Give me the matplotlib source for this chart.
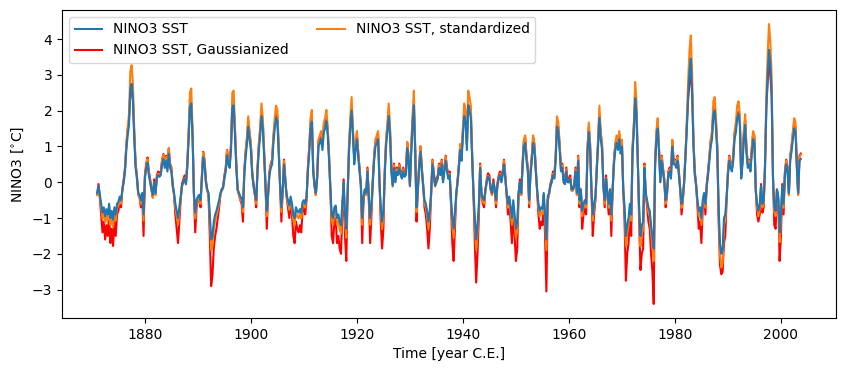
import numpy as np
import matplotlib
matplotlib.use("Agg")
import matplotlib.pyplot as plt

# quarterly samples starting 1871.0
start_year = 1871.0
step = 0.25

sst = [
    -0.3, -0.1, -0.35, -0.6,   -0.85, -0.7, -0.95, -0.75,  -0.9, -0.6, -1.0, -0.8,
    -1.05, -0.7, -0.9, -0.6,   -0.55, -0.4, -0.5, -0.2,    0.0, 0.3, 0.9, 1.3,
    1.6, 2.6, 2.75, 2.3,       1.2, 0.4, 0.1, -0.3,        -0.35, -0.5, -0.3, -0.9,
    0.1, 0.4, 0.55, 0.2,       0.0, -0.2, -0.35, 0.0,      -0.3, 0.1, 0.2, 0.15,
    0.2, 0.5, 0.65, 0.4,       0.6, 0.3, 0.8, 0.4,         0.3, -0.1, -0.3, -0.6,
    -0.8, -1.0, -0.7, -0.4,    -0.1, 0.0, 0.1, -0.05,      0.4, 1.2, 2.1, 2.2,
    1.2, -0.3, -0.85, -0.5,    -0.4, -0.35, -0.5, 0.1,     0.7, 0.5, 0.0, -0.2,
    -0.3, -0.9, -1.6, -1.5,    -1.1, -0.9, -0.8, -0.65,    -0.5, -0.3, -0.2, -0.15,
    0.1, 0.3, 0.75, 0.5,       0.4, 0.9, 2.1, 2.15,        1.3, 0.4, -0.2, -0.3,
    -0.4, -0.45, -0.7, 0.2,    0.7, 1.05, 1.55, 1.2,       0.9, 0.2, -0.1, -0.3,
    -0.5, 0.3, 0.9, 1.3,       1.85, 1.5, 0.7, -0.1,       -0.8, -0.3, 0.2, 0.4,
    0.5, 1.1, 1.5, 1.8,        1.7, 0.8, -0.1, -0.7,       -0.2, 0.5, 0.0, -0.35,
    -0.5, -0.65, -0.4, -0.6,   -0.9, -1.0, -0.7, -0.8,     -0.85, -0.75, -0.85, -0.55,
    -0.5, -0.6, -0.4, 0.3,     0.8, 1.5, 1.7, 0.3,         -0.1, -0.3, 0.1, 1.0,
    1.1, 1.2, 0.9, 1.4,        1.5, 1.7, 1.3, 0.6,         -0.2, -0.9, -1.0, -0.7,
    -0.65, -1.0, -0.9, -1.1,   -1.2, -0.6, 0.0, -0.9,      -1.3, -0.3, 0.8, 1.5,
    2.0, 1.3, 0.5, 0.9,        1.2, 0.7, 0.3, -0.1,        -1.0, -0.4, -0.2, -0.3,
    0.3, -0.4, -1.0, -0.6,     0.0, 0.6, 1.0, 1.1,         1.2, 0.0, -0.7, -1.1,
    -0.8, 0.2, 1.0, 1.4,       1.85, 1.3, 0.3, -0.1,       0.4, 0.0, 0.3, 0.2,
    0.4, 0.2, 0.1, 0.3,        0.15, 0.2, 0.95, 0.6,       -0.1, 0.8, 1.6, 2.15,
    0.8, -0.7, -0.2, 0.4,      0.85, 0.3, -0.1, -0.5,      -0.6, -0.8, -1.1, -0.8,
    -0.3, 0.5, 0.2, -0.1,      0.0, 0.1, 0.4, 0.2,         0.5, 0.0, 0.3, 0.6,
    0.3, 0.1, 0.2, -0.45,      -1.0, -1.3, -0.8, -0.3,     0.0, 0.4, 0.9, 0.6,
    1.3, 1.85, 1.7, 0.9,       2.15, 2.0, 1.8, 0.6,        -0.3, -1.0, -1.6, -1.2,
    -0.65, 0.4, -0.3, -0.45,   -0.5, -0.2, 0.0, 0.15,      0.1, -0.2, -0.3, 0.0,
    -0.2, -0.5, -0.1, 0.1,     0.2, 0.0, 0.2, 0.5,         0.1, -0.3, -0.6, -0.4,
    -0.7, -1.0, -0.5, -0.9,    -1.3, -1.1, -0.3, 0.0,      -0.3, 0.4, 1.0, 1.1,
    0.6, 0.3, -0.5, 0.2,       0.6, 1.1, 0.9, 0.3,         -0.2, -0.6, -0.8, -0.7,
    -0.75, -0.3, -0.9, -1.6,   -0.4, -0.3, -0.1, 0.0,      0.2, 0.1, 0.6, 1.55,
    1.4, 0.9, 0.3, 0.4,        0.0, -0.05, 0.3, 0.0,       0.0, 0.1, -0.2, -0.2,
    -0.1, 0.3, -0.3, 0.6,      -0.5, -0.2, -0.8, -0.6,     -0.5, -0.6, 0.8, 1.4,
    0.9, -0.2, -0.9, -0.6,     -0.4, 0.3, 1.0, 1.8,        1.2, 0.9, -0.1, -0.5,
    0.1, -0.3, -0.6, -0.2,     -0.9, -0.2, 0.5, 0.9,       1.1, 0.9, 1.2, 0.8,
    1.0, -0.2, -0.7, -1.5,     -1.2, -1.0, -0.6, -0.9,     0.8, 1.4, 2.35, 1.9,
    0.5, -0.7, -1.5, -1.2,     -1.1, 0.4, -0.3, -0.5,      -0.7, -0.8, -1.2, -1.5,
    -1.85, 0.4, 1.2, 1.5,      0.8, 0.0, 0.6, 0.3,         0.0, -0.5, -0.3, 0.2,
    0.3, 0.1, 1.0, 0.5,        0.5, 0.4, 0.6, 0.2,         -0.2, -0.6, -0.4, 0.0,
    0.7, 1.5, 2.4, 3.1,        3.45, 2.5, 1.0, 0.2,        -0.1, -0.5, -0.8, -0.7,
    -1.0, -0.5, -0.3, -0.6,    -0.1, 0.2, 0.6, 1.0,        1.2, 1.9, 2.0, 1.5,
    0.8, -0.7, -1.7, -2.0,     -1.9, -1.0, -0.9, -0.4,     0.2, 0.6, 0.4, 0.3,
    0.6, 1.2, 1.4, 1.8,        1.9, 1.6, 0.1, 0.5,         1.2, 1.6, 0.8, 0.4,
    0.5, 0.3, 0.8, 1.2,        1.1, -0.2, -0.6, -0.8,      -0.6, -0.1, -0.6, -0.5,
    0.4, 2.1, 3.0, 3.7,        3.3, 2.5, 0.1, -0.7,        -0.8, -0.2, -0.4, -1.4,
    -0.9, -0.1, -0.6, 0.2,     0.5, 0.3, -0.3, 0.6,        0.85, 1.2, 1.5, 1.4,
    0.4, -0.3, 0.6, 0.65,
]

sst_std = [
    -0.36, -0.12, -0.42, -0.71,  -1.01, -0.83, -1.13, -0.89,  -1.07, -0.71, -1.19, -0.95,
    -1.25, -0.83, -1.07, -0.71,  -0.65, -0.48, -0.6, -0.24,   0.0, 0.36, 1.07, 1.55,
    1.9, 3.09, 3.27, 2.74,       1.43, 0.48, 0.12, -0.36,     -0.42, -0.6, -0.36, -1.07,
    0.12, 0.48, 0.65, 0.24,      0.0, -0.24, -0.42, 0.0,      -0.36, 0.12, 0.24, 0.18,
    0.24, 0.6, 0.77, 0.48,       0.71, 0.36, 0.95, 0.48,      0.36, -0.12, -0.36, -0.71,
    -0.95, -1.19, -0.83, -0.48,  -0.12, 0.0, 0.12, -0.06,     0.48, 1.43, 2.5, 2.62,
    1.43, -0.36, -1.01, -0.6,    -0.48, -0.42, -0.6, 0.12,    0.83, 0.6, 0.0, -0.24,
    -0.36, -1.07, -1.9, -1.79,   -1.31, -1.07, -0.95, -0.77,  -0.6, -0.36, -0.24, -0.18,
    0.12, 0.36, 0.89, 0.6,       0.48, 1.07, 2.5, 2.56,       1.55, 0.48, -0.24, -0.36,
    -0.48, -0.54, -0.83, 0.24,   0.83, 1.25, 1.84, 1.43,      1.07, 0.24, -0.12, -0.36,
    -0.6, 0.36, 1.07, 1.55,      2.2, 1.79, 0.83, -0.12,      -0.95, -0.36, 0.24, 0.48,
    0.6, 1.31, 1.79, 2.14,       2.02, 0.95, -0.12, -0.83,    -0.24, 0.6, 0.0, -0.42,
    -0.6, -0.77, -0.48, -0.71,   -1.07, -1.19, -0.83, -0.95,  -1.01, -0.89, -1.01, -0.65,
    -0.6, -0.71, -0.48, 0.36,    0.95, 1.79, 2.02, 0.36,      -0.12, -0.36, 0.12, 1.19,
    1.31, 1.43, 1.07, 1.67,      1.79, 2.02, 1.55, 0.71,      -0.24, -1.07, -1.19, -0.83,
    -0.77, -1.19, -1.07, -1.31,  -1.43, -0.71, 0.0, -1.07,    -1.55, -0.36, 0.95, 1.79,
    2.38, 1.55, 0.6, 1.07,       1.43, 0.83, 0.36, -0.12,     -1.19, -0.48, -0.24, -0.36,
    0.36, -0.48, -1.19, -0.71,   0.0, 0.71, 1.19, 1.31,       1.43, 0.0, -0.83, -1.31,
    -0.95, 0.24, 1.19, 1.67,     2.2, 1.55, 0.36, -0.12,      0.48, 0.0, 0.36, 0.24,
    0.48, 0.24, 0.12, 0.36,      0.18, 0.24, 1.13, 0.71,      -0.12, 0.95, 1.9, 2.56,
    0.95, -0.83, -0.24, 0.48,    1.01, 0.36, -0.12, -0.6,     -0.71, -0.95, -1.31, -0.95,
    -0.36, 0.6, 0.24, -0.12,     0.0, 0.12, 0.48, 0.24,       0.6, 0.0, 0.36, 0.71,
    0.36, 0.12, 0.24, -0.54,     -1.19, -1.55, -0.95, -0.36,  0.0, 0.48, 1.07, 0.71,
    1.55, 2.2, 2.02, 1.07,       2.56, 2.38, 2.14, 0.71,      -0.36, -1.19, -1.9, -1.43,
    -0.77, 0.48, -0.36, -0.54,   -0.6, -0.24, 0.0, 0.18,      0.12, -0.24, -0.36, 0.0,
    -0.24, -0.6, -0.12, 0.12,    0.24, 0.0, 0.24, 0.6,        0.12, -0.36, -0.71, -0.48,
    -0.83, -1.19, -0.6, -1.07,   -1.55, -1.31, -0.36, 0.0,    -0.36, 0.48, 1.19, 1.31,
    0.71, 0.36, -0.6, 0.24,      0.71, 1.31, 1.07, 0.36,      -0.24, -0.71, -0.95, -0.83,
    -0.89, -0.36, -1.07, -1.9,   -0.48, -0.36, -0.12, 0.0,    0.24, 0.12, 0.71, 1.84,
    1.67, 1.07, 0.36, 0.48,      0.0, -0.06, 0.36, 0.0,       0.0, 0.12, -0.24, -0.24,
    -0.12, 0.36, -0.36, 0.71,    -0.6, -0.24, -0.95, -0.71,   -0.6, -0.71, 0.95, 1.67,
    1.07, -0.24, -1.07, -0.71,   -0.48, 0.36, 1.19, 2.14,     1.43, 1.07, -0.12, -0.6,
    0.12, -0.36, -0.71, -0.24,   -1.07, -0.24, 0.6, 1.07,     1.31, 1.07, 1.43, 0.95,
    1.19, -0.24, -0.83, -1.79,   -1.43, -1.19, -0.71, -1.07,  0.95, 1.67, 2.8, 2.26,
    0.6, -0.83, -1.79, -1.43,    -1.31, 0.48, -0.36, -0.6,    -0.83, -0.95, -1.43, -1.79,
    -2.2, 0.48, 1.43, 1.79,      0.95, 0.0, 0.71, 0.36,       0.0, -0.6, -0.36, 0.24,
    0.36, 0.12, 1.19, 0.6,       0.6, 0.48, 0.71, 0.24,       -0.24, -0.71, -0.48, 0.0,
    0.83, 1.79, 2.86, 3.69,      4.1, 2.98, 1.19, 0.24,       -0.12, -0.6, -0.95, -0.83,
    -1.19, -0.6, -0.36, -0.71,   -0.12, 0.24, 0.71, 1.19,     1.43, 2.26, 2.38, 1.79,
    0.95, -0.83, -2.02, -2.38,   -2.26, -1.19, -1.07, -0.48,  0.24, 0.71, 0.48, 0.36,
    0.71, 1.43, 1.67, 2.14,      2.26, 1.9, 0.12, 0.6,        1.43, 1.9, 0.95, 0.48,
    0.6, 0.36, 0.95, 1.43,       1.31, -0.24, -0.71, -0.95,   -0.71, -0.12, -0.71, -0.6,
    0.48, 2.5, 3.57, 4.42,       3.93, 2.98, 0.12, -0.83,     -0.95, -0.24, -0.48, -1.67,
    -1.07, -0.12, -0.71, 0.24,   0.6, 0.36, -0.36, 0.71,      1.01, 1.43, 1.79, 1.67,
    0.48, -0.36, 0.71, 0.77,
]

sst_gauss = [
    -0.35, -0.05, -0.43, -0.9,   -1.4, -1.1, -1.6, -1.2,      -1.5, -0.9, -1.7, -1.3,
    -1.78, -1.1, -1.5, -0.9,     -0.8, -0.5, -0.7, -0.2,      0.08, 0.41, 1.05, 1.45,
    1.73, 2.5, 2.6, 2.27,        1.35, 0.52, 0.19, -0.35,     -0.43, -0.7, -0.35, -1.5,
    0.19, 0.52, 0.69, 0.3,       0.08, -0.2, -0.43, 0.08,     -0.35, 0.19, 0.3, 0.25,
    0.3, 0.63, 0.79, 0.52,       0.74, 0.41, 0.95, 0.52,      0.41, -0.05, -0.35, -0.9,
    -1.3, -1.7, -1.1, -0.5,      -0.05, 0.08, 0.19, 0.01,     0.52, 1.35, 2.13, 2.2,
    1.35, -0.35, -1.4, -0.7,     -0.5, -0.43, -0.7, 0.19,     0.85, 0.63, 0.08, -0.2,
    -0.35, -1.5, -2.9, -2.6,     -1.85, -1.5, -1.3, -1.0,     -0.7, -0.35, -0.2, -0.13,
    0.19, 0.41, 0.9, 0.63,       0.52, 1.05, 2.13, 2.16,      1.45, 0.52, -0.2, -0.35,
    -0.5, -0.6, -1.1, 0.3,       0.85, 1.2, 1.69, 1.35,       1.05, 0.3, -0.05, -0.35,
    -0.7, 0.41, 1.05, 1.45,      1.94, 1.65, 0.85, -0.05,     -1.3, -0.35, 0.3, 0.52,
    0.63, 1.25, 1.65, 1.9,       1.82, 0.95, -0.05, -1.1,     -0.2, 0.63, 0.08, -0.43,
    -0.7, -1.0, -0.5, -0.9,      -1.5, -1.7, -1.1, -1.3,      -1.4, -1.2, -1.4, -0.8,
    -0.7, -0.9, -0.5, 0.41,      0.95, 1.65, 1.82, 0.41,      -0.05, -0.35, 0.19, 1.15,
    1.25, 1.35, 1.05, 1.55,      1.65, 1.82, 1.45, 0.74,      -0.2, -1.5, -1.7, -1.1,
    -1.0, -1.7, -1.5, -1.85,     -2.0, -0.9, 0.08, -1.5,      -2.2, -0.35, 0.95, 1.65,
    2.05, 1.45, 0.63, 1.05,      1.35, 0.85, 0.41, -0.05,     -1.7, -0.5, -0.2, -0.35,
    0.41, -0.5, -1.7, -0.9,      0.08, 0.74, 1.15, 1.25,      1.35, 0.08, -1.1, -1.85,
    -1.3, 0.3, 1.15, 1.55,       1.94, 1.45, 0.41, -0.05,     0.52, 0.08, 0.41, 0.3,
    0.52, 0.3, 0.19, 0.41,       0.25, 0.3, 1.1, 0.74,        -0.05, 0.95, 1.73, 2.16,
    0.95, -1.1, -0.2, 0.52,      1.0, 0.41, -0.05, -0.7,      -0.9, -1.3, -1.85, -1.3,
    -0.35, 0.63, 0.3, -0.05,     0.08, 0.19, 0.52, 0.3,       0.63, 0.08, 0.41, 0.74,
    0.41, 0.19, 0.3, -0.6,       -1.7, -2.2, -1.3, -0.35,     0.08, 0.52, 1.05, 0.74,
    1.45, 1.94, 1.82, 1.05,      2.16, 2.05, 1.9, 0.74,       -0.35, -1.7, -2.8, -2.0,
    -1.0, 0.52, -0.35, -0.6,     -0.7, -0.2, 0.08, 0.25,      0.19, -0.2, -0.35, 0.08,
    -0.2, -0.7, -0.05, 0.19,     0.3, 0.08, 0.3, 0.63,        0.19, -0.35, -0.9, -0.5,
    -1.1, -1.7, -0.7, -1.5,      -2.2, -1.85, -0.35, 0.08,    -0.35, 0.52, 1.15, 1.25,
    0.74, 0.41, -0.7, 0.3,       0.74, 1.25, 1.05, 0.41,      -0.2, -0.9, -1.3, -1.1,
    -1.2, -0.35, -1.5, -3.05,    -0.5, -0.35, -0.05, 0.08,    0.3, 0.19, 0.74, 1.69,
    1.55, 1.05, 0.41, 0.52,      0.08, 0.01, 0.41, 0.08,      0.08, 0.19, -0.2, -0.2,
    -0.05, 0.41, -0.35, 0.74,    -0.7, -0.2, -1.3, -0.9,      -0.7, -0.9, 0.95, 1.55,
    1.05, -0.2, -1.5, -0.9,      -0.5, 0.41, 1.15, 1.9,       1.35, 1.05, -0.05, -0.7,
    0.19, -0.35, -0.9, -0.2,     -1.5, -0.2, 0.63, 1.05,      1.25, 1.05, 1.35, 0.95,
    1.15, -0.2, -1.1, -2.75,     -2.0, -1.7, -0.9, -1.5,      0.95, 1.55, 2.31, 1.96,
    0.63, -1.1, -2.45, -2.0,     -1.85, 0.52, -0.35, -0.7,    -1.1, -1.3, -2.0, -2.5,
    -3.4, 0.52, 1.35, 1.65,      0.95, 0.08, 0.74, 0.41,      0.08, -0.7, -0.35, 0.3,
    0.41, 0.19, 1.15, 0.63,      0.63, 0.52, 0.74, 0.3,       -0.2, -0.9, -0.5, 0.08,
    0.85, 1.65, 2.35, 2.8,       3.1, 2.43, 1.15, 0.3,        -0.05, -0.7, -1.3, -1.1,
    -1.7, -0.7, -0.35, -0.9,     -0.05, 0.3, 0.74, 1.15,      1.35, 1.96, 2.05, 1.65,
    0.95, -1.1, -2.3, -2.57,     -2.5, -1.7, -1.5, -0.5,      0.3, 0.74, 0.52, 0.41,
    0.74, 1.35, 1.55, 1.9,       1.96, 1.73, 0.19, 0.63,      1.35, 1.73, 0.95, 0.52,
    0.63, 0.41, 0.95, 1.35,      1.25, -0.2, -0.9, -1.1,      -0.9, -0.05, -0.85, -0.7,
    0.52, 2.13, 2.8, 3.4,        3.0, 2.43, 0.19, -1.2,       -1.3, -0.2, -0.5, -2.2,
    -1.5, -0.05, -0.9, 0.3,      0.63, 0.41, -0.35, 0.74,     1.0, 1.35, 1.65, 1.55,
    0.52, -0.35, 0.74, 0.8,
]

time = start_year + step * np.arange(len(sst))

fig = plt.figure(figsize=(8.47, 3.71), dpi=100)
ax = fig.add_axes([0.0732, 0.1429, 0.9138, 0.8302])

ax.plot(time, sst, color="C0", label="NINO3 SST", zorder=3)
ax.plot(time, sst_gauss, color="red", label="NINO3 SST, Gaussianized", zorder=2)
ax.plot(time, sst_std, color="C1", label="NINO3 SST, standardized", zorder=2.5)

ax.set_xlabel("Time [year C.E.]")
ax.set_ylabel(r"NINO3 [$^{\circ}$C]")
ax.legend(loc="upper left", ncol=2)

fig.savefig("out.png", dpi=100)
